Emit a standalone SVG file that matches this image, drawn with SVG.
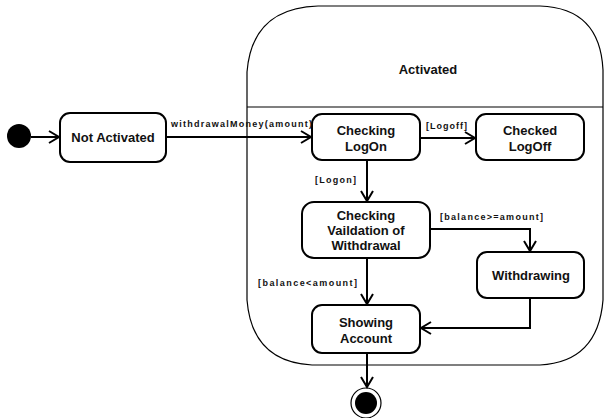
<svg xmlns="http://www.w3.org/2000/svg" width="606" height="418" viewBox="0 0 606 418">
<defs>
<style>
.node{fill:#fff;stroke:#000;stroke-width:2}
.t{font-family:"Liberation Sans",Arial,sans-serif;font-weight:bold;font-size:13px;text-anchor:middle;fill:#111}
.l{font-family:"Liberation Sans",Arial,sans-serif;font-weight:bold;font-size:9px;fill:#111}
.c{fill:none;stroke:#000;stroke-width:2}
</style>
<marker id="a" markerWidth="14" markerHeight="14" refX="11" refY="7" orient="auto" markerUnits="userSpaceOnUse">
<path d="M1,1 L11,7 L1,13" fill="none" stroke="#000" stroke-width="2"/>
</marker>
</defs>
<rect width="606" height="418" fill="#fff"/>
<g id="activated">
<path d="M247,72 Q252,8 318,6 L540,6 Q600,8 603,70 L603,300 Q598,362 540,365 L312,365 Q252,362 247,300 Z" fill="#fff" stroke="#000" stroke-width="1.2"/>
<line x1="247" y1="107" x2="603" y2="107" stroke="#000" stroke-width="1.2"/>
<text class="t" x="428" y="74">Activated</text>
</g>
<g id="initial"><circle cx="19" cy="136" r="12" fill="#000"/></g>
<g id="not-activated">
<rect class="node" x="60" y="113" width="106" height="49" rx="10"/>
<text class="t" x="113" y="142">Not Activated</text>
</g>
<g id="checking-logon">
<rect class="node" x="312" y="114" width="108" height="46" rx="10"/>
<text class="t" x="366" y="135">Checking</text>
<text class="t" x="366" y="151">LogOn</text>
</g>
<g id="checked-logoff">
<rect class="node" x="476" y="114" width="108" height="46" rx="10"/>
<text class="t" x="530" y="135">Checked</text>
<text class="t" x="530" y="151">LogOff</text>
</g>
<g id="checking-validation">
<rect class="node" x="302" y="202" width="128" height="56" rx="12"/>
<text class="t" x="366" y="220">Checking</text>
<text class="t" x="366" y="235">Vaildation of</text>
<text class="t" x="366" y="250">Withdrawal</text>
</g>
<g id="withdrawing">
<rect class="node" x="477" y="252" width="107" height="46" rx="10"/>
<text class="t" x="531" y="280">Withdrawing</text>
</g>
<g id="showing-account">
<rect class="node" x="312" y="305" width="108" height="48" rx="10"/>
<text class="t" x="366" y="327">Showing</text>
<text class="t" x="366" y="343">Account</text>
</g>
<g id="final">
<circle cx="366" cy="403" r="15" fill="#fff" stroke="#000" stroke-width="1.2"/>
<circle cx="366" cy="403" r="11" fill="#000"/>
</g>
<g id="connectors">
<line class="c" x1="31" y1="137" x2="59" y2="137" marker-end="url(#a)"/>
<line class="c" x1="166" y1="137" x2="311" y2="137" marker-end="url(#a)"/>
<text class="l" x="171" y="127" textLength="141">withdrawalMoney(amount)</text>
<line class="c" x1="420" y1="138" x2="475" y2="138" marker-end="url(#a)"/>
<text class="l" x="426" y="129" textLength="41">[Logoff]</text>
<line class="c" x1="367" y1="160" x2="367" y2="201" marker-end="url(#a)"/>
<text class="l" x="315" y="183" textLength="41">[Logon]</text>
<polyline class="c" points="430,229 530,229 530,251" marker-end="url(#a)"/>
<text class="l" x="440" y="220" textLength="103">[balance&gt;=amount]</text>
<line class="c" x1="367" y1="258" x2="367" y2="304" marker-end="url(#a)"/>
<text class="l" x="258" y="286" textLength="99">[balance&lt;amount]</text>
<polyline class="c" points="530,298 530,328 421,328" marker-end="url(#a)"/>
<line class="c" x1="367" y1="353" x2="367" y2="387" marker-end="url(#a)"/>
</g>
</svg>
